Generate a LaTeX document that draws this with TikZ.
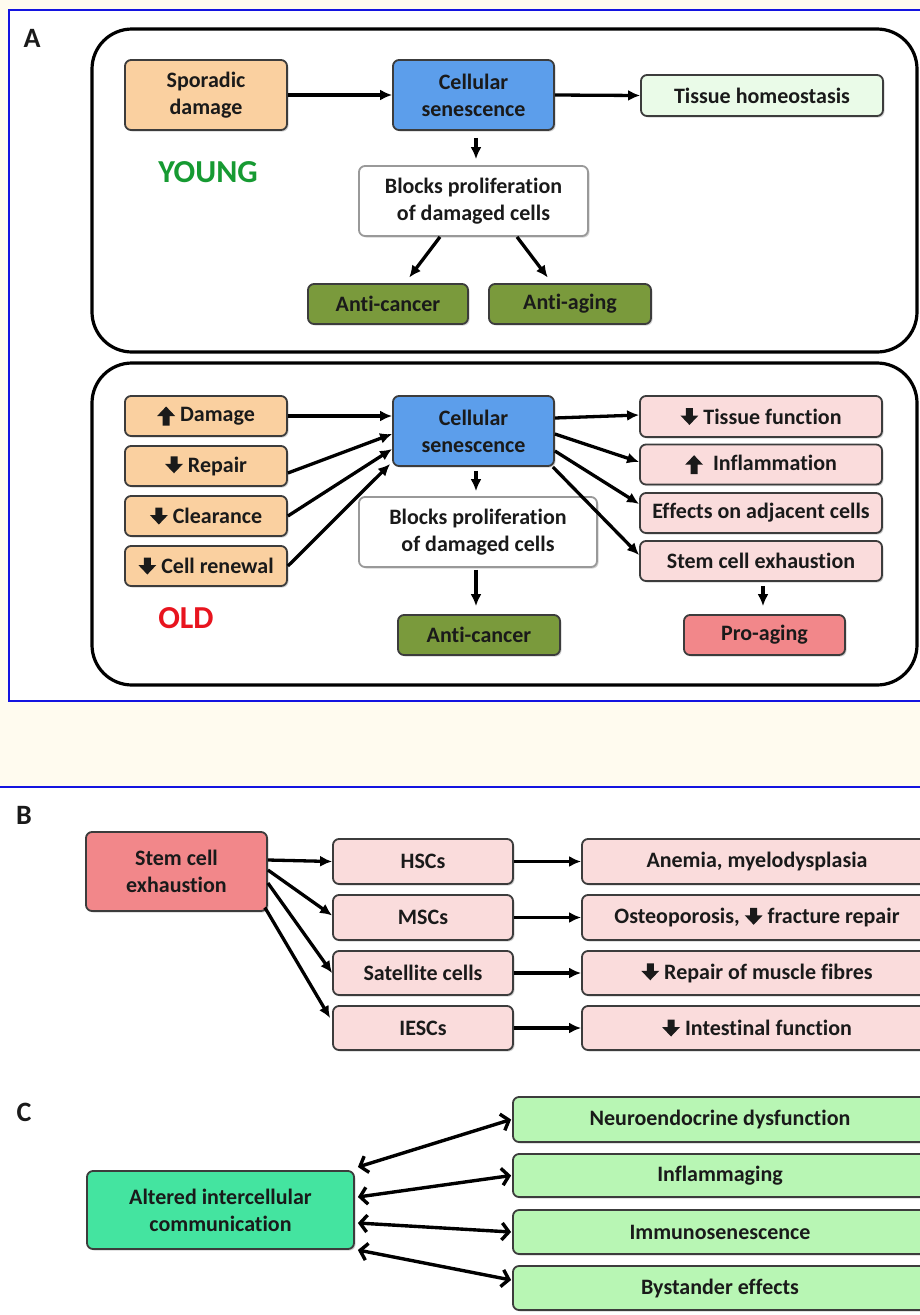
\documentclass[tikz,border=0pt]{standalone}
\usepackage{fontspec}
\setmainfont{Carlito}[Ligatures=NoCommon]
\usetikzlibrary{arrows.meta,shadows,calc}
\definecolor{cream}{HTML}{FFFBEF}
\definecolor{frameblue}{HTML}{1414E0}
\definecolor{txt}{HTML}{1A1A1A}
\definecolor{boxline}{HTML}{3C3C3C}
\definecolor{peach}{HTML}{FAD0A0}
\definecolor{senblue}{HTML}{5C9EEB}
\definecolor{palegreen}{HTML}{EAFBE8}
\definecolor{olive}{HTML}{7A9A3C}
\definecolor{palepink}{HTML}{FADCDC}
\definecolor{salmon}{HTML}{F2878A}
\definecolor{mint}{HTML}{44E4A0}
\definecolor{lightgreen}{HTML}{B8F6B4}
\definecolor{youngc}{HTML}{169A32}
\definecolor{oldc}{HTML}{E8141E}
\newcommand\dnar{\tikz[baseline=0pt,x=1pt,y=1pt,sharp corners]\fill[txt,sharp corners] (-3.5,16)--(3.5,16)--(3.5,8.5)--(9,8.5)--(0,-1)--(-9,8.5)--(-3.5,8.5)--cycle;}
\newcommand\upar{\tikz[baseline=0pt,x=1pt,y=1pt,sharp corners]\fill[txt,sharp corners] (-3.5,-4)--(3.5,-4)--(3.5,5.5)--(9,5.5)--(0,15)--(-9,5.5)--(-3.5,5.5)--cycle;}
\tikzset{
  box/.style={draw=boxline, line width=1.8pt, rounded corners=6pt, align=center,
    inner sep=2pt, text=txt, font=\bfseries\fontsize{22}{27}\selectfont,
    drop shadow={shadow xshift=1.5pt, shadow yshift=-1.5pt, opacity=0.35}},
  panel/.style={draw=black, line width=3.2pt, rounded corners=40pt},
  arr/.style={line width=3.3pt, -{Latex[length=12pt,width=11pt]}},
  darr/.style={line width=3.4pt, {Straight Barb[length=7pt,width=17pt,line width=3.4pt]}-{Straight Barb[length=7pt,width=17pt,line width=3.4pt]}},
  lbl/.style={font=\bfseries\fontsize{28}{32}\selectfont, text=txt},
  age/.style={font=\bfseries\fontsize{32}{36}\selectfont}
}
\begin{document}
\begin{tikzpicture}[x=1pt,y=-1pt]
\path[use as bounding box] (0,0) rectangle (920,1315);
\clip (0,0) rectangle (920,1315);
\fill[cream] (0,0) rectangle (920,1315);
% panel A frame
\draw[frameblue, line width=2.5pt, fill=white] (9,10) rectangle (940,701);
% panel B/C background
\fill[white] (0,787) rectangle (920,1315);
\draw[frameblue, line width=2.5pt] (-5,787) -- (930,787);

\node[lbl] (la) at (32,38) {A};
\node[lbl] (lb) at (24,815) {B};
\node[lbl] (lc) at (24,1112) {C};

% ---- YOUNG ----
\draw[panel] (92,29) rectangle (917,352);
\node[box, fill=peach, minimum width=162, minimum height=70] (spor) at (206,95) {Sporadic\\damage};
\node[box, fill=senblue, minimum width=161, minimum height=70] (cs1) at (473.5,95) {Cellular\\senescence};
\node[box, fill=palegreen, minimum width=242, minimum height=41] (tis) at (762,95.5) {Tissue homeostasis};
\node[box, fill=white, draw=gray!80, minimum width=229, minimum height=70] (blk1) at (473.5,201) {Blocks proliferation\\of damaged cells};
\node[box, fill=olive, minimum width=160, minimum height=40] (ac1) at (388,304) {Anti-cancer};
\node[box, fill=olive, minimum width=162, minimum height=40] (aa1) at (570,304) {Anti-aging};
\node[age, text=youngc] (young) at (208,172) {YOUNG};

\draw[arr] (spor.east) -- (cs1.west);
\draw[arr] (cs1.east) -- (tis.west);
\draw[arr, shorten <=7pt, shorten >=6pt] ([xshift=2.5]cs1.south) -- ([xshift=2.5]blk1.north);
\draw[arr, shorten >=7pt] ([xshift=-33.5]blk1.south) -- ([xshift=17]ac1.north);
\draw[arr, shorten >=7pt] ([xshift=43.5]blk1.south) -- ([xshift=-18]aa1.north);

% ---- OLD ----
\draw[panel] (92,363) rectangle (917,685);
\node[box, fill=peach, minimum width=162, minimum height=40] (dmg) at (206,416) {\upar\ Damage};
\node[box, fill=peach, minimum width=162, minimum height=40] (rep) at (206,466) {\dnar\ Repair};
\node[box, fill=peach, minimum width=162, minimum height=40] (clr) at (206,516) {\dnar\ Clearance};
\node[box, fill=peach, minimum width=162, minimum height=40] (ren) at (206,566) {\dnar\ Cell renewal};
\node[box, fill=senblue, minimum width=161, minimum height=70] (cs2) at (473.5,431) {Cellular\\senescence};
\node[box, fill=white, draw=gray!80, minimum width=238, minimum height=70] (blk2) at (478,532) {Blocks proliferation\\of damaged cells};
\node[box, fill=olive, minimum width=162, minimum height=40] (ac2) at (479,635) {Anti-cancer};
\node[box, fill=palepink, minimum width=242, minimum height=41] (tf) at (761,416.5) {\dnar\ Tissue function};
\node[box, fill=palepink, minimum width=242, minimum height=40] (inf) at (761,464.5) {\upar\ \ Inflammation};
\node[box, fill=palepink, minimum width=242, minimum height=40] (eff) at (761,513) {Effects on adjacent cells};
\node[box, fill=palepink, minimum width=242, minimum height=40] (sce) at (761,561) {Stem cell exhaustion};
\node[box, fill=salmon, minimum width=161, minimum height=40] (pro) at (764.5,635) {Pro-aging};
\node[age, text=oldc] (old) at (186,618) {OLD};

\draw[arr] (dmg.east) -- ([yshift=15]cs2.west);
\draw[arr] ([yshift=-7]rep.east) -- ([yshift=-3]cs2.west);
\draw[arr] (clr.east) -- ([yshift=-18]cs2.west);
\draw[arr] (ren.east) -- ([xshift=-2,yshift=-33]cs2.west);
\draw[arr] ([yshift=13]cs2.east) -- ([yshift=1.5]tf.west);
\draw[arr] ([yshift=-3]cs2.east) -- ([yshift=2.5]inf.west);
\draw[arr] ([yshift=-20]cs2.east) -- ([yshift=9]eff.west);
\draw[arr] ([xshift=-2,yshift=-36]cs2.east) -- ([yshift=6]sce.west);
\draw[arr, shorten <=4pt, shorten >=5pt] ([xshift=2.5]cs2.south) -- ([xshift=-2]blk2.north);
\draw[arr, shorten <=2pt, shorten >=8pt] ([xshift=-2]blk2.south) -- ([xshift=-3]ac2.north);
\draw[arr, shorten <=4pt, shorten >=8pt] ([xshift=2]sce.south) -- ([xshift=-1.5]pro.north);

% ---- B ----
\node[box, fill=salmon, minimum width=181, minimum height=79] (sce3) at (176.5,871.5) {Stem cell\\exhaustion};
\node[box, fill=palepink, minimum width=180, minimum height=45] (hsc) at (423,861.5) {HSCs};
\node[box, fill=palepink, minimum width=180, minimum height=45] (msc) at (423,917.5) {MSCs};
\node[box, fill=palepink, minimum width=180, minimum height=44] (sat) at (423,973) {Satellite cells};
\node[box, fill=palepink, minimum width=180, minimum height=44] (ies) at (423,1028) {IESCs};
\node[box, fill=palepink, minimum width=350, minimum height=45] (ane) at (757,861.5) {Anemia, myelodysplasia};
\node[box, fill=palepink, minimum width=350, minimum height=45] (ost) at (757,917.5) {Osteoporosis, \dnar\ fracture repair};
\node[box, fill=palepink, minimum width=350, minimum height=44] (mus) at (757,973) {\dnar\ Repair of muscle fibres};
\node[box, fill=palepink, minimum width=350, minimum height=44] (int) at (757,1028) {\dnar\ Intestinal function};

\draw[arr] ([yshift=11.5]sce3.east) -- (hsc.west);
\draw[arr] ([yshift=1.5]sce3.east) -- ([yshift=2]msc.west);
\draw[arr] ([yshift=-11.5]sce3.east) -- (sat.west);
\draw[arr] ([xshift=-3,yshift=-36]sce3.east) -- ([xshift=-2,yshift=10]ies.west);
\draw[arr] (hsc.east) -- (ane.west);
\draw[arr] (msc.east) -- (ost.west);
\draw[arr] (sat.east) -- (mus.west);
\draw[arr] (ies.east) -- (int.west);

% ---- C ----
\node[box, fill=mint, minimum width=267, minimum height=78] (alt) at (220.5,1210) {Altered intercellular\\communication};
\node[box, fill=lightgreen, minimum width=414, minimum height=45] (neu) at (720,1119.5) {Neuroendocrine dysfunction};
\node[box, fill=lightgreen, minimum width=414, minimum height=43] (infl) at (720,1175.5) {Inflammaging};
\node[box, fill=lightgreen, minimum width=414, minimum height=44] (imm) at (720,1232) {Immunosenescence};
\node[box, fill=lightgreen, minimum width=414, minimum height=44] (bys) at (720,1288) {Bystander effects};

\draw[darr] ([xshift=3,yshift=43]alt.east) -- ([xshift=-1]neu.west);
\draw[darr] ([xshift=3,yshift=13]alt.east) -- ([xshift=-1]infl.west);
\draw[darr] ([xshift=3,yshift=-13]alt.east) -- ([xshift=-1]imm.west);
\draw[darr] ([xshift=3,yshift=-40]alt.east) -- ([xshift=-1,yshift=8]bys.west);
\end{tikzpicture}
\end{document}
